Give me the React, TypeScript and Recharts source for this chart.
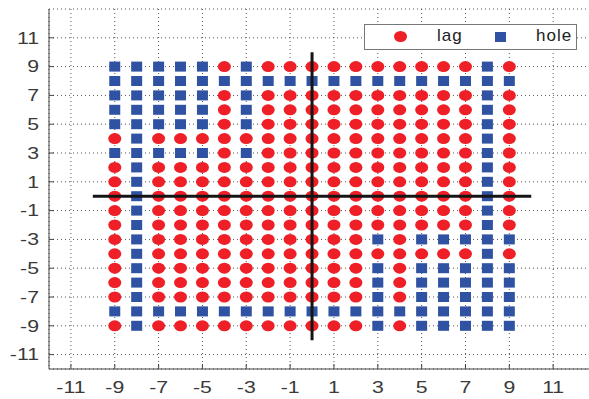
import { CartesianGrid, Legend, Scatter, ScatterChart, XAxis, YAxis } from "recharts";

// one string per row, from y = 9 down to y = -9; columns run x = -9 .. 9
// "o" = lag, "s" = hole
const ROWS = [
  "sssssosooooooooooso",
  "sssssssssssssssssss",
  "sssssosooooooooooso",
  "sssssosooooooooooso",
  "sssssosooooooooooso",
  "osoooooooooooooooso",
  "sssssosooooooooooso",
  "osoooooooooooooooso",
  "osoooooooooooooooso",
  "osoooooooooooooooso",
  "osoooooooooooooooso",
  "osoooooooooooooooso",
  "osoooooooooososssss",
  "osoooooooooooooooso",
  "osoooooooooososssss",
  "osoooooooooososssss",
  "osoooooooooososssss",
  "sssssssssssssssssss",
  "osoooooooooososssss",
];
const ROW_Y = [9, 8, 7, 6, 5, 4, 3, 2, 1, 0, -1, -2, -3, -4, -5, -6, -7, -8, -9];
const COL_X = [-9, -8, -7, -6, -5, -4, -3, -2, -1, 0, 1, 2, 3, 4, 5, 6, 7, 8, 9];
const TICKS = [-11, -9, -7, -5, -3, -1, 1, 3, 5, 7, 9, 11];

// the black cross through the origin
const H_AXIS = [{ x: -10, y: 0 }, { x: 10, y: 0 }];
const V_AXIS = [{ x: 0, y: -10 }, { x: 0, y: 10 }];

const lagPoints = ROWS.flatMap((row, i) =>
  COL_X.filter((_, j) => row[j] === "o").map((x) => ({ x, y: ROW_Y[i] }))
);
const holePoints = ROWS.flatMap((row, i) =>
  COL_X.filter((_, j) => row[j] === "s").map((x) => ({ x, y: ROW_Y[i] }))
);

const RED = "#ee1f26";
const BLUE = "#2f52a2";
const AXIS = "#444";
const TEXT = "#3a3a3a";
const FONT = "'Liberation Sans', Arial, Helvetica, sans-serif";

function LagDot({ cx, cy }: any) {
  return <ellipse cx={cx} cy={cy} rx={6.5} ry={5.5} fill={RED} />;
}

function HoleDot({ cx, cy }: any) {
  return <rect x={cx - 5.5} y={cy - 5} width={11} height={10} fill={BLUE} />;
}

function NoDot() {
  return <g />;
}

function BottomTick({ x, y, payload }: any) {
  return (
    <g>
      <line x1={x} x2={x} y1={y} y2={y - 5} stroke={AXIS} />
      <text
        transform={`translate(${x},${y + 18.5}) scale(1.25,1)`}
        textAnchor="middle"
        dominantBaseline="central"
        fontSize={17}
        fontFamily={FONT}
        fill={TEXT}
      >
        {payload.value}
      </text>
    </g>
  );
}

function TopTick({ x, y }: any) {
  return <line x1={x} x2={x} y1={y} y2={y + 5} stroke={AXIS} />;
}

function LeftTick({ x, y, payload }: any) {
  return (
    <g>
      <line x1={x} x2={x + 5} y1={y} y2={y} stroke={AXIS} />
      <text
        transform={`translate(${x - 10},${y}) scale(1.25,1)`}
        textAnchor="end"
        dominantBaseline="central"
        fontSize={17}
        fontFamily={FONT}
        fill={TEXT}
      >
        {payload.value}
      </text>
    </g>
  );
}

function LegendBox() {
  return (
    <div
      style={{
        width: 211,
        height: 24,
        border: "1px solid #777",
        background: "#fff",
        position: "relative",
        fontFamily: FONT,
        fontSize: 17,
        color: "#222",
      }}
    >
      <span
        style={{
          position: "absolute", left: 29, top: 6, width: 13, height: 11,
          borderRadius: "50%", background: RED,
        }}
      />
      <span style={{ position: "absolute", left: 72, top: 1, letterSpacing: 1 }}>lag</span>
      <span
        style={{ position: "absolute", left: 130, top: 7, width: 11, height: 10, background: BLUE }}
      />
      <span style={{ position: "absolute", left: 171, top: 1, letterSpacing: 1 }}>hole</span>
    </div>
  );
}

export default function App() {
  return (
    <div
      style={{
        position: "absolute", left: 0, top: 0, width: 589, height: 399,
        overflow: "hidden", background: "#fff",
      }}
    >
      <ScatterChart width={610} height={399} margin={{ top: 9, right: 13, bottom: 0, left: 0 }}>
        <CartesianGrid strokeDasharray="1 3" stroke="#555" />
        <XAxis
          type="number"
          dataKey="x"
          domain={[-12, 13]}
          ticks={TICKS}
          height={30}
          tickSize={0}
          tickMargin={0}
          tickLine={false}
          stroke={AXIS}
          tick={<BottomTick />}
        />
        <XAxis
          xAxisId="top"
          orientation="top"
          type="number"
          dataKey="x"
          domain={[-12, 13]}
          ticks={TICKS}
          height={0}
          tickSize={0}
          tickMargin={0}
          tickLine={false}
          stroke={AXIS}
          tick={<TopTick />}
        />
        <YAxis
          type="number"
          dataKey="y"
          domain={[-12, 13]}
          ticks={TICKS}
          width={49}
          tickSize={0}
          tickMargin={0}
          tickLine={false}
          stroke={AXIS}
          tick={<LeftTick />}
        />
        <Legend
          layout="horizontal"
          verticalAlign="middle"
          content={<LegendBox />}
          wrapperStyle={{ position: "absolute", left: 364, top: 24, width: 213, height: 26 }}
        />
        <Scatter name="lag" data={lagPoints} shape={<LagDot />} isAnimationActive={false} />
        <Scatter name="hole" data={holePoints} shape={<HoleDot />} isAnimationActive={false} />
        <Scatter
          name="h-axis"
          data={H_AXIS}
          shape={<NoDot />}
          line={{ stroke: "#151515", strokeWidth: 3 }}
          legendType="none"
          isAnimationActive={false}
        />
        <Scatter
          name="v-axis"
          data={V_AXIS}
          shape={<NoDot />}
          line={{ stroke: "#151515", strokeWidth: 3 }}
          legendType="none"
          isAnimationActive={false}
        />
      </ScatterChart>
    </div>
  );
}
